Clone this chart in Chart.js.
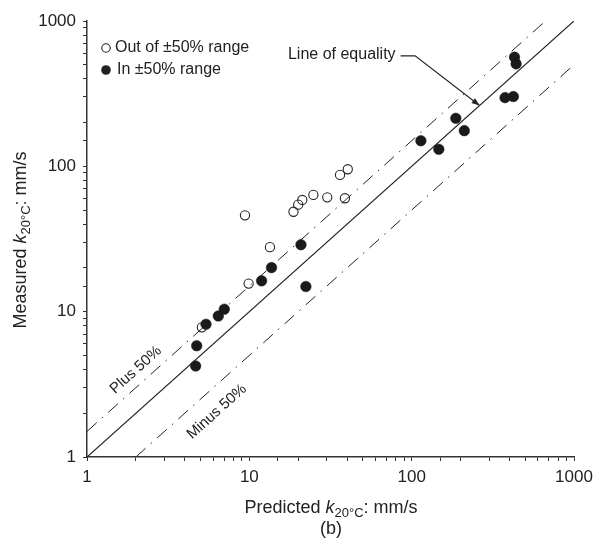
<!DOCTYPE html>
<html>
<head>
<meta charset="utf-8">
<script src="https://cdn.jsdelivr.net/npm/chart.js@4.4.1/dist/chart.umd.min.js"></script>
<style>
  html, body { margin: 0; padding: 0; background: #fff; }
  #wrap { width: 594px; height: 545px; position: relative; }
</style>
</head>
<body>
<div id="wrap"><canvas id="chart"></canvas></div>
<script>
// predicted vs measured k20°C (mm/s)
const predictedOut = [5.1, 9.4, 9.9, 13.4, 18.7, 20.0, 21.2, 24.8, 30.2, 36.2, 38.8, 40.4];
const measuredOut  = [7.8, 46, 15.6, 27.8, 48.7, 54.5, 58.7, 63.6, 61.2, 87.3, 60.3, 95.5];

const predictedIn = [4.67, 4.74, 5.41, 6.44, 7.01, 11.9, 13.7, 20.8, 22.3, 114, 147, 187, 211, 376, 423, 430, 440];
const measuredIn  = [4.23, 5.83, 8.19, 9.34, 10.4, 16.3, 20.1, 28.9, 14.9, 150, 131, 214, 176, 297, 302, 564, 507];

// reference lines
const equalityX = [1, 1000], equalityY = [1, 1000];
const plusX = [1, 666.7], plusY = [1.5, 1000];
const minusX = [2, 1000], minusY = [1, 500];

const decadeTicks = [1, 10, 100, 1000];

const FONT = '"Liberation Sans", Arial, Helvetica, sans-serif';
const INK = '#222';

const pts = (xs, ys) => xs.map((x, i) => ({ x, y: ys[i] }));

function drawRich(ctx, parts, cx, cy) {
  let w = 0;
  parts.forEach(p => { ctx.font = p.f; w += ctx.measureText(p.t).width; });
  let px = cx - w / 2;
  parts.forEach(p => {
    ctx.font = p.f;
    ctx.fillText(p.t, px, cy + (p.dy || 0));
    px += ctx.measureText(p.t).width;
  });
}

const annotate = {
  id: 'annotate',
  afterDraw(chart) {
    const { ctx, chartArea, scales: { x, y } } = chart;
    const ang = Math.atan2(y.getPixelForValue(1000) - y.getPixelForValue(1),
                           x.getPixelForValue(1000) - x.getPixelForValue(1));
    ctx.save();
    ctx.fillStyle = INK;
    ctx.strokeStyle = INK;

    // legend
    const lx = chartArea.left + 19, ly1 = chartArea.top + 27, ly2 = chartArea.top + 49;
    ctx.lineWidth = 1.1;
    ctx.beginPath(); ctx.arc(lx, ly1, 4.2, 0, Math.PI * 2);
    ctx.fillStyle = '#fff'; ctx.fill(); ctx.stroke();
    ctx.fillStyle = INK;
    ctx.beginPath(); ctx.arc(lx, ly2, 4.8, 0, Math.PI * 2); ctx.fill();
    ctx.font = '16px ' + FONT;
    ctx.textBaseline = 'middle';
    ctx.textAlign = 'left';
    ctx.fillText('Out of \u00b150% range', lx + 9, ly1);
    ctx.fillText('In \u00b150% range', lx + 11, ly2);

    // line of equality label + arrow
    const tx = x.getPixelForValue(17.3), ty = y.getPixelForValue(585);
    ctx.fillText('Line of equality', tx, ty);
    const tw = ctx.measureText('Line of equality').width;
    const ex = x.getPixelForValue(105), ey = ty + 1;
    const hx = x.getPixelForValue(262), hy = y.getPixelForValue(262);
    ctx.lineWidth = 1.1;
    ctx.beginPath();
    ctx.moveTo(tx + tw + 5, ey);
    ctx.lineTo(ex, ey);
    ctx.lineTo(hx, hy);
    ctx.stroke();
    const a = Math.atan2(hy - ey, hx - ex);
    ctx.beginPath();
    ctx.moveTo(hx, hy);
    ctx.lineTo(hx - 8 * Math.cos(a) + 3 * Math.sin(a), hy - 8 * Math.sin(a) - 3 * Math.cos(a));
    ctx.lineTo(hx - 8 * Math.cos(a) - 3 * Math.sin(a), hy - 8 * Math.sin(a) + 3 * Math.cos(a));
    ctx.closePath();
    ctx.fill();

    // band labels along the lines
    ctx.font = '15px ' + FONT;
    ctx.textAlign = 'center';
    [['Plus 50%', 2.0, 3.97], ['Minus 50%', 6.3, 2.05]].forEach(([t, vx, vy]) => {
      ctx.save();
      ctx.translate(x.getPixelForValue(vx), y.getPixelForValue(vy));
      ctx.rotate(ang);
      ctx.fillText(t, 0, 0);
      ctx.restore();
    });

    // axis titles
    ctx.textBaseline = 'alphabetic';
    ctx.textAlign = 'left';
    drawRich(ctx, [
      { t: 'Predicted ', f: '18px ' + FONT },
      { t: 'k', f: 'italic 18px ' + FONT },
      { t: '20\u00b0C', f: '13px ' + FONT, dy: 4 },
      { t: ': mm/s', f: '18px ' + FONT }
    ], 331, 513);
    ctx.font = '18px ' + FONT;
    ctx.textAlign = 'center';
    ctx.fillText('(b)', 331, 534);
    ctx.textAlign = 'left';

    ctx.save();
    ctx.translate(26, 240);
    ctx.rotate(-Math.PI / 2);
    drawRich(ctx, [
      { t: 'Measured ', f: '18px ' + FONT },
      { t: 'k', f: 'italic 18px ' + FONT },
      { t: '20\u00b0C', f: '13px ' + FONT, dy: 4 },
      { t: ': mm/s', f: '18px ' + FONT }
    ], 0, 0);
    ctx.restore();

    ctx.restore();
  }
};

const dashDot = [13, 7, 1.5, 7];

const axis = (side) => ({
  type: 'logarithmic',
  position: side,
  min: 1,
  max: 1000,
  border: { display: true, color: '#333', width: 1.5 },
  grid: { drawOnChartArea: false, drawTicks: true, tickLength: 4, color: '#333', lineWidth: 1 },
  ticks: {
    autoSkip: false,
    maxRotation: 0,
    padding: side === 'bottom' ? 6 : 7,
    color: INK,
    font: { family: FONT, size: 17 },
    callback: v => decadeTicks.includes(v) ? String(v) : ''
  }
});

const xAxis = axis('bottom');
xAxis.afterFit = s => { s.height = 88; s.paddingLeft = 0; s.paddingRight = 0; };
const yAxis = axis('left');
yAxis.afterFit = s => { s.width = 87; s.paddingTop = 0; s.paddingBottom = 0; };

new Chart(document.getElementById('chart'), {
  type: 'scatter',
  data: {
    datasets: [
      {
        label: 'Out of \u00b150% range',
        data: pts(predictedOut, measuredOut),
        pointRadius: 4.6,
        pointBackgroundColor: 'rgba(255,255,255,0)',
        pointBorderColor: INK,
        pointBorderWidth: 1.1,
        order: 0
      },
      {
        label: 'In \u00b150% range',
        data: pts(predictedIn, measuredIn),
        pointRadius: 5.3,
        pointBackgroundColor: '#1a1a1a',
        pointBorderColor: '#1a1a1a',
        pointBorderWidth: 0.5,
        order: 0
      },
      {
        label: 'Line of equality',
        data: pts(equalityX, equalityY),
        showLine: true,
        pointRadius: 0,
        borderColor: INK,
        borderWidth: 1.2,
        order: 1
      },
      {
        label: 'Plus 50%',
        data: pts(plusX, plusY),
        showLine: true,
        pointRadius: 0,
        borderColor: INK,
        borderWidth: 1,
        borderDash: dashDot,
        order: 1
      },
      {
        label: 'Minus 50%',
        data: pts(minusX, minusY),
        showLine: true,
        pointRadius: 0,
        borderColor: INK,
        borderWidth: 1,
        borderDash: dashDot,
        order: 1
      }
    ]
  },
  options: {
    responsive: true,
    maintainAspectRatio: false,
    animation: false,
    devicePixelRatio: 1,
    layout: { padding: { left: 0, right: 20, top: 21, bottom: 0 } },
    plugins: { legend: { display: false }, tooltip: { enabled: false } },
    scales: { x: xAxis, y: yAxis }
  },
  plugins: [annotate]
});
</script>
</body>
</html>
